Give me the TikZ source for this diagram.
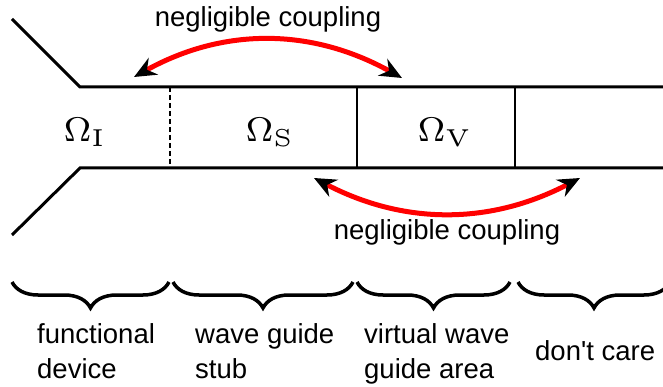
\documentclass[tikz,border=0pt]{standalone}
\usepackage{graphicx}
\usepackage[no-math]{fontspec}
\setmainfont{Liberation Sans}
\usepackage{tikz}
\usetikzlibrary{arrows.meta,positioning,decorations.pathreplacing}

\begin{document}
\begin{tikzpicture}[x=1pt,y=1pt,
  every node/.style={font=\fontsize{27.5}{35}\selectfont,inner sep=0pt},
  wall/.style={line width=3pt},
  cut/.style={line width=2pt},
  coupling/.style={draw=red,line width=5pt,
    {Stealth[color=black,length=22pt,width=19pt]}-{Stealth[color=black,length=22pt,width=19pt]}},
  part/.style={decorate,decoration={brace,mirror,amplitude=26pt}},
  region/.style={anchor=base,font=\fontsize{7}{8}\selectfont},
  legend/.style={anchor=base west,align=left}]
\path[use as bounding box] (0,0) rectangle (663,-387);
\clip (0,0) rectangle (663,-387);
% wave guide walls
\draw[wall] (12,-19) -- (80,-87) -- (670,-87);
\draw[wall] (12,-235) -- (80,-168) -- (670,-168);
\draw[cut,dash pattern=on 5pt off 3pt] (170,-87) -- (170,-168);
\draw[cut] (357,-87) -- (357,-168);
\draw[cut] (515,-87) -- (515,-168);
% regions
\node[region] (omegai) at (85,-142) {\scalebox{4.9}{$\Omega_\mathrm{I}$}};
\node[region] (omegas) at (270,-142) {\scalebox{4.9}{$\Omega_\mathrm{S}$}};
\node[region] (omegav) at (445,-142) {\scalebox{4.9}{$\Omega_\mathrm{V}$}};
% couplings
\coordinate (topl) at (134,-77);
\coordinate (topr) at (402,-78);
\coordinate (botl) at (314,-178);
\coordinate (botr) at (580,-178);
\node[anchor=base] (cuptop) at (268,-27) {negligible coupling};
\node[anchor=base] (cupbot) at (447,-240) {negligible coupling};
\draw[coupling] (topl) .. controls +(90,50) and +(-90,50) .. (topr);
\draw[coupling] (botl) .. controls +(90,-47) and +(-90,-47) .. (botr);
% parts
\draw[part,line width=3.5pt] (12,-282) -- (169,-282);
\draw[part,line width=3.5pt] (173,-282) -- (353,-282);
\draw[part,line width=3.5pt] (357,-282) -- (510,-282);
\draw[part,line width=3.5pt] (518,-282) -- (670,-282);
\node[legend] (labdev) at (37,-378) {functional\\device};
\node[legend] (labstub) at (195,-378) {wave guide\\stub};
\node[legend] (labvirt) at (364,-378) {virtual wave\\guide area};
\node[legend] (labcare) at (535,-360) {don\textquotesingle t care};
\end{tikzpicture}
\end{document}
